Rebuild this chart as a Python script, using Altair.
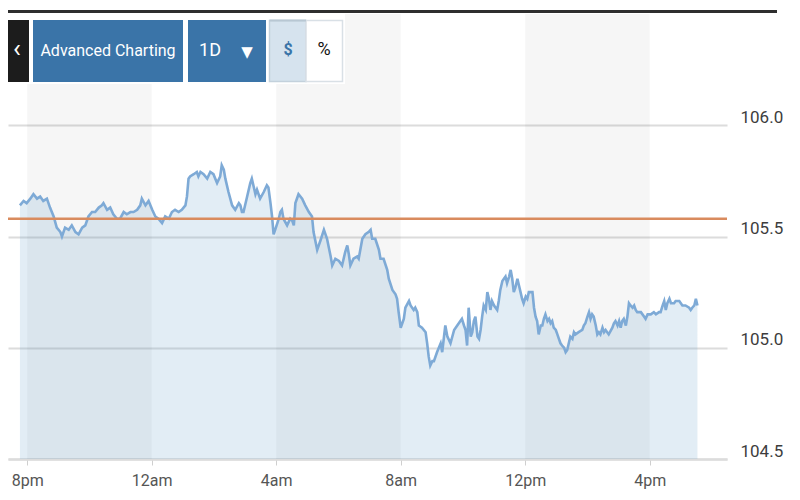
import altair as alt
import pandas as pd

# ---- data: minutes after 8pm, price ----
minutes = [
    -14, -7, -1, 6, 12, 19, 25, 31, 38, 44, 51, 57, 64, 67, 73, 80, 86, 93, 99, 106,
    112, 118, 125, 131, 138, 144, 147, 154, 160, 166, 173, 179, 186, 192, 199, 205, 212, 218, 221, 228,
    234, 241, 247, 253, 260, 266, 273, 279, 285, 292, 298, 305, 308, 311,
    314, 321, 327, 330, 334, 340, 347, 353, 359, 366, 372, 375, 379, 382, 388, 395, 401, 408, 411, 414,
    417, 424, 430, 433, 437, 440, 443, 449, 456, 462, 465, 469, 472, 475, 478, 485, 488, 491, 494, 501,
    507, 511, 514, 517, 523, 530, 536, 543, 549, 552, 559, 565, 572, 578, 585, 588, 594, 601, 607, 613,
    617, 620, 623, 629, 636, 639, 646, 652, 658, 662, 665, 671, 678, 681, 687, 694, 697, 704, 710, 713,
    716, 720, 726, 729, 736, 739, 745, 748, 752, 755, 761, 768, 771, 774, 777, 781, 784, 790, 797, 800,
    806, 810, 816, 823, 829,
    835, 838, 842, 845, 848, 851, 855, 858, 861, 864, 868, 871, 874, 877, 880, 884, 887, 890, 893, 896,
    900, 906, 909, 912, 916, 919, 922, 925, 929, 932, 935, 938, 941, 945, 948, 951, 954, 957, 961, 964,
    967, 974, 977, 980, 983, 986, 990, 993, 996, 999, 1003, 1006, 1009, 1012, 1015, 1019, 1022, 1025, 1028, 1031,
    1035, 1038, 1041, 1044, 1047, 1051, 1054, 1057, 1063, 1070, 1073, 1076, 1080, 1083, 1086, 1089, 1092, 1096, 1099, 1102,
    1105, 1109, 1112, 1115, 1121, 1128, 1131, 1134, 1138, 1141, 1144, 1147, 1150, 1154, 1157, 1160, 1163, 1167, 1170, 1173,
    1176, 1183, 1189, 1192, 1196, 1202, 1208, 1212, 1218, 1221, 1225, 1228, 1231, 1234, 1238, 1241, 1247, 1250, 1257, 1263,
    1269, 1276, 1279, 1282, 1286, 1289, 1292,
]
prices = [
    105.64, 105.66, 105.65, 105.67, 105.69, 105.67, 105.68, 105.66, 105.67, 105.63, 105.59, 105.54, 105.52, 105.50, 105.54, 105.53, 105.55, 105.52, 105.51, 105.54,
    105.55, 105.59, 105.61, 105.61, 105.63, 105.64, 105.65, 105.62, 105.63, 105.60, 105.58, 105.58, 105.61, 105.60, 105.61, 105.61, 105.62, 105.64, 105.67, 105.64,
    105.66, 105.62, 105.59, 105.58, 105.56, 105.59, 105.58, 105.61, 105.62, 105.61, 105.62, 105.64, 105.68, 105.76,
    105.77, 105.78, 105.79, 105.77, 105.79, 105.78, 105.76, 105.79, 105.78, 105.74, 105.77, 105.82, 105.80, 105.76, 105.70, 105.64, 105.62, 105.65, 105.64, 105.61,
    105.61, 105.68, 105.74, 105.76, 105.72, 105.69, 105.71, 105.67, 105.70, 105.73, 105.72, 105.65, 105.59, 105.51, 105.53, 105.58, 105.61, 105.62, 105.58, 105.55,
    105.58, 105.57, 105.55, 105.65, 105.69, 105.67, 105.64, 105.61, 105.59, 105.52, 105.44, 105.48, 105.53, 105.49, 105.41, 105.37, 105.40, 105.39, 105.37, 105.43,
    105.46, 105.42, 105.37, 105.40, 105.41, 105.40, 105.49, 105.51, 105.52, 105.53, 105.49, 105.49, 105.44, 105.40, 105.40, 105.35, 105.31, 105.26, 105.24, 105.22,
    105.16, 105.09, 105.13, 105.18, 105.21, 105.19, 105.17, 105.18, 105.16, 105.10, 105.09, 105.07, 105.02, 104.96, 104.92, 104.94, 104.94, 104.98, 105.02, 104.98,
    105.10, 105.05, 105.02, 105.08, 105.10,
    105.12, 105.13, 105.10, 105.08, 105.01, 105.18, 105.05, 105.07, 105.12, 105.14, 105.05, 105.04, 105.08, 105.14, 105.19, 105.17, 105.25, 105.22, 105.17, 105.21,
    105.19, 105.17, 105.21, 105.26, 105.30, 105.31, 105.32, 105.29, 105.32, 105.35, 105.31, 105.25, 105.27, 105.31, 105.28, 105.25, 105.22, 105.20, 105.23, 105.22,
    105.25, 105.25, 105.18, 105.14, 105.12, 105.06, 105.10, 105.10, 105.13, 105.15, 105.12, 105.13, 105.11, 105.12, 105.09, 105.08, 105.06, 105.04, 105.02, 105.01,
    105.00, 104.98, 104.99, 105.02, 105.05, 105.04, 105.07, 105.06, 105.07, 105.08, 105.10, 105.11, 105.14, 105.16, 105.13, 105.15, 105.14, 105.10, 105.06, 105.07,
    105.06, 105.09, 105.07, 105.08, 105.06, 105.09, 105.11, 105.12, 105.10, 105.12, 105.09, 105.12, 105.13, 105.10, 105.14, 105.20, 105.19, 105.18, 105.19, 105.17,
    105.16, 105.16, 105.14, 105.13, 105.15, 105.15, 105.16, 105.15, 105.16, 105.16, 105.19, 105.21, 105.17, 105.20, 105.22, 105.20, 105.20, 105.21, 105.21, 105.19,
    105.19, 105.18, 105.17, 105.18, 105.19, 105.22, 105.19,
]
previous_close = 105.58

tick_minutes = [0, 240, 480, 720, 960, 1200]
tick_labels = ["8pm", "12am", "4am", "8am", "12pm", "4pm"]
price_ticks = [104.5, 105.0, 105.5, 106.0]
band_start = [0, 480, 960]
band_end = [240, 720, 1200]

df = pd.DataFrame({"minute": minutes, "price": prices})
bands_df = pd.DataFrame({"start": band_start, "end": band_end})
one = pd.DataFrame({"k": [0]})

FONT = "Roboto"
W, H = 719, 445

xs = alt.Scale(domain=[-37, 1349], nice=False, zero=False)
ys = alt.Scale(domain=[104.5, 106.5], nice=False, zero=False)

label_expr = " : ".join(
    f"datum.value == {m} ? '{l}'" for m, l in zip(tick_minutes, tick_labels)
) + " : ''"

x_axis = alt.Axis(
    values=tick_minutes, labelExpr=label_expr, title=None, grid=False,
    domainColor="#dcdcdc", domainWidth=2.5, tickColor="#cfcfcf", tickSize=6,
    tickWidth=1, labelFont=FONT, labelFontSize=16, labelColor="#555555",
    labelPadding=7, labelBaseline="top",
)
y_axis = alt.Axis(
    orient="right", values=price_ticks, format=".1f", title=None,
    grid=True, gridColor="#dcdcdc", gridWidth=2, domain=False, ticks=False,
    labelPadding=13, labelFont=FONT, labelFontSize=17, labelColor="#3d3d3d",
    labelBaseline="alphabetic", labelOffset=-3, labelAlign="left",
)

bands = alt.Chart(bands_df).mark_rect(color="#000000", opacity=0.035).encode(
    x=alt.X("start:Q", scale=xs, axis=x_axis),
    x2="end:Q",
    y=alt.value(0),
    y2=alt.value(H),
)

area = alt.Chart(df).mark_area(color="#6fa3cf", opacity=0.2).encode(
    x=alt.X("minute:Q", scale=xs, axis=x_axis),
    y=alt.Y("price:Q", scale=ys, axis=y_axis),
    y2=alt.datum(104.5),
)

line = alt.Chart(df).mark_line(color="#7eaad6", strokeWidth=2.6).encode(
    x=alt.X("minute:Q", scale=xs, axis=x_axis),
    y=alt.Y("price:Q", scale=ys, axis=y_axis),
)

prev = alt.Chart(one).mark_rule(color="#d98b5e", strokeWidth=2.5).encode(
    y=alt.datum(previous_close),
)


def box(x0, x1, y0, y1, fill, stroke=None, sw=0):
    kw = {"color": fill}
    if stroke:
        kw = {"fill": fill, "stroke": stroke, "strokeWidth": sw}
    return alt.Chart(one).mark_rect(**kw).encode(
        x=alt.value(x0), x2=alt.value(x1), y=alt.value(y0), y2=alt.value(y1)
    )


def label(txt, x, y, color, size, font=FONT, weight="normal"):
    return alt.Chart(one).mark_text(
        text=txt, color=color, fontSize=size, font=font, align="center",
        baseline="middle", fontWeight=weight,
    ).encode(x=alt.value(x), y=alt.value(y))


top_rule = alt.Chart(one).mark_rule(color="#2e2e2e", strokeWidth=3).encode(
    x=alt.value(-3), x2=alt.value(769), y=alt.value(-2.5)
)

BLUE = "#3a74a8"
toolbar = [
    box(-3, 337, 0, 70, "#ffffff"),
    box(-3, 21, 6, 68, "#1c1c1c"),
    box(25, 175, 6, 68, BLUE),
    box(180, 258, 6, 68, BLUE),
    box(261.5, 298, 6.5, 67.5, "#d6e3ee", "#c3d1dc", 1.5),
    box(298, 334.5, 6.5, 67.5, "#ffffff", "#d9e0e6", 1.5),
    box(261.5, 298, 5.5, 7.5, "#b8c7d3"),
    label("‹", 9, 35, "#ffffff", 26),
    label("Advanced Charting", 100, 37, "#ffffff", 16),
    label("1D", 202, 37, "#ffffff", 18),
    label("▼", 239, 38, "#ffffff", 15, font="DejaVu Sans"),
    label("$", 280, 36, BLUE, 16, weight="bold"),
    label("%", 316, 36, "#111111", 18),
]

chart = alt.layer(bands, area, line, prev, top_rule, *toolbar).properties(
    width=W, height=H,
    autosize=alt.AutoSizeParams(type="none"),
    padding={"left": 0, "top": 6, "right": 57, "bottom": 40},
    background="#ffffff",
).configure_view(stroke=None)

chart.save("out.html", embed_options={"renderer": "svg", "actions": False})
